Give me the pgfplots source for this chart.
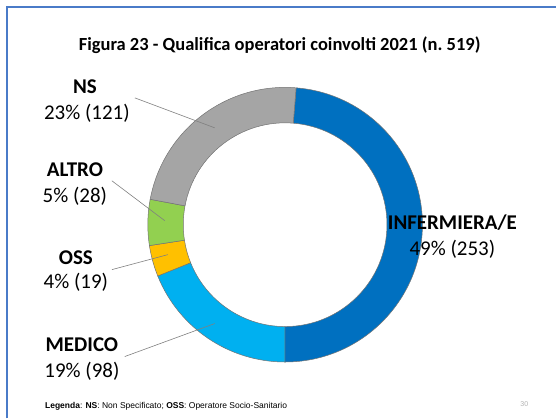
\documentclass[border=0pt]{standalone}
\usepackage{pgfplots}
\pgfplotsset{compat=1.18}
\usepackage{fontspec}
\setmainfont{Carlito}
\newfontfamily\arial{Liberation Sans}

% values: INFERMIERA/E, MEDICO, OSS, ALTRO, NS
\def\vA{253}\def\vB{98}\def\vC{19}\def\vD{28}\def\vE{121}
\pgfmathsetmacro\tot{\vA+\vB+\vC+\vD+\vE}
\pgfmathsetmacro\sA{85.4}
\pgfmathsetmacro\sB{\sA-360*(\vA/\tot)}
\pgfmathsetmacro\sC{\sB-360*(\vB/\tot)}
\pgfmathsetmacro\sD{\sC-360*(\vC/\tot)}
\pgfmathsetmacro\sE{\sD-360*(\vD/\tot)}
\pgfmathsetmacro\sF{\sE-360*(\vE/\tot)}

\definecolor{cInf}{HTML}{0070C0}
\definecolor{cMed}{HTML}{00B0F0}
\definecolor{cOss}{HTML}{FFC000}
\definecolor{cAlt}{HTML}{92D050}
\definecolor{cNs}{HTML}{A5A5A5}
\definecolor{frame}{HTML}{4A7BC8}

\newcommand\seg[3]{%
  \fill[#3, draw=black!55, line width=0.5pt] (axis cs:285.5,225) ++(#1:137.5pt)
    arc[start angle=#1, end angle=#2, radius=137.5pt]
    -- ++({#2+180}:35.5pt)
    arc[start angle=#2, end angle=#1, radius=102pt] -- cycle;}

\begin{document}
\begin{tikzpicture}
\begin{axis}[width=557pt,height=419pt,scale only axis,
  xmin=0,xmax=557,ymin=0,ymax=419,y dir=reverse,hide axis,clip=false]
\path (axis cs:0,0) rectangle (axis cs:557,419);
\draw[frame, line width=1.5pt] (axis cs:7,419) -- (axis cs:7,7) -- (axis cs:557,7);
\seg{\sA}{\sB}{cInf}
\seg{\sB}{\sC}{cMed}
\seg{\sC}{\sD}{cOss}
\seg{\sD}{\sE}{cAlt}
\seg{\sE}{\sF}{cNs}
\node[font=\bfseries\fontsize{18.5}{21}\selectfont] at (axis cs:280,45) {Figura 23 - Qualifica operatori coinvolti 2021 (n.~519)};
\draw[gray, line width=0.6pt] (axis cs:135,98) -- (axis cs:215,128);
\draw[gray, line width=0.6pt] (axis cs:112,181) -- (axis cs:165,221);
\draw[gray, line width=0.6pt] (axis cs:112,270) -- (axis cs:168,255);
\draw[gray, line width=0.6pt] (axis cs:125,357) -- (axis cs:215,324);
\tikzset{lb/.style={font=\bfseries\fontsize{21}{24}\selectfont, inner sep=0pt},
         lv/.style={font=\fontsize{21}{24}\selectfont, inner sep=0pt}}
\node[lb] at (axis cs:85,87) {NS};
\node[lv] at (axis cs:87,113) {23\% (121)};
\node[lb] at (axis cs:75,170) {ALTRO};
\node[lv] at (axis cs:75,197) {5\% (28)};
\node[lb] at (axis cs:76,258) {OSS};
\node[lv] at (axis cs:76,283) {4\% (19)};
\node[lb] at (axis cs:82,345) {MEDICO};
\node[lv] at (axis cs:82,372) {19\% (98)};
\node[lb] at (axis cs:453,223) {INFERMIERA/E};
\node[lv] at (axis cs:453,250) {49\% (253)};
\node[anchor=west, font=\arial\fontsize{8.5}{10}\selectfont, inner sep=0pt] at (axis cs:45,407)
  {\textbf{Legenda}: \textbf{NS}: Non Specificato; \textbf{OSS}: Operatore Socio-Sanitario};
\node[font=\arial\fontsize{7}{8}\selectfont, text=gray!60] at (axis cs:525,405) {30};
\end{axis}
\end{tikzpicture}
\end{document}
